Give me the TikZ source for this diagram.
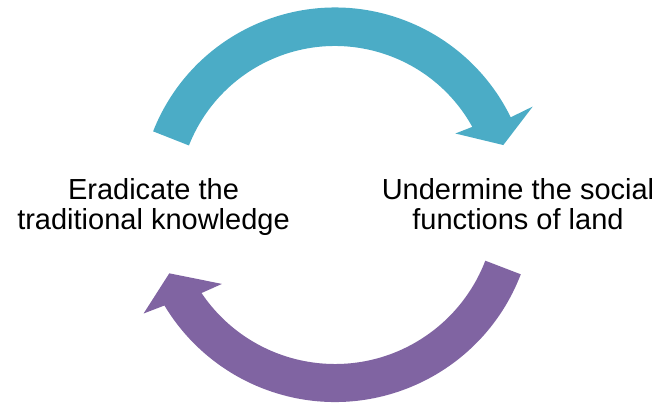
\documentclass[tikz,border=0pt]{standalone}
\usepackage{fontspec}
\setmainfont{Liberation Sans}

\definecolor{cycleteal}{HTML}{4BACC6}
\definecolor{cyclepurple}{HTML}{8064A2}

\begin{document}
\begin{tikzpicture}[x=0.5pt, y=0.5pt,
  steplabel/.style={anchor=north, inner sep=0pt, align=center,
    font=\fontsize{14.5}{15}\selectfont}]
  \useasboundingbox (0, 0) rectangle (660, 403);

  \begin{scope}[shift={(335, 200)}]
    % upper arrow, left to right
    \fill[cycleteal]
    (158.5:157) -- (158.5:195.5)
    arc[start angle=158.5, end angle=26, radius=195.5]
    -- (26:220) -- (19:178) -- (30:139) -- (29:157)
    arc[start angle=29, end angle=158.5, radius=157] -- cycle;

    % lower arrow, right to left
    \fill[cyclepurple]
    (-21:161) -- (-21:199)
    arc[start angle=-21, end angle=-149, radius=199]
    -- (-150:221) -- (-157:180) -- (-144.4:139) -- (-146:161)
    arc[start angle=-146, end angle=-21, radius=161] -- cycle;
  \end{scope}

  \node[steplabel] (eradicate) at (153.5, 224.5) {Eradicate the\\traditional knowledge};
  \node[steplabel] (undermine) at (518, 224.5) {Undermine the social\\functions of land};
\end{tikzpicture}
\end{document}
